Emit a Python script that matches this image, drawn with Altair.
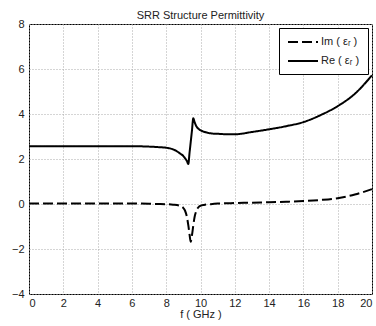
import altair as alt
import pandas as pd

# Frequency samples (GHz) and the complex permittivity of the SRR structure
freq = [0, 1, 2, 3, 4, 5, 6, 7, 7.5, 8, 8.4, 8.8, 9.0, 9.1, 9.2, 9.29, 9.36,
        9.43, 9.5, 9.58, 9.65, 9.75, 9.9, 10.0, 10.2, 10.4, 10.7, 11, 11.5,
        12, 13, 14, 15, 16, 17, 18, 19, 20]
re_eps = [2.57, 2.57, 2.57, 2.57, 2.57, 2.57, 2.57, 2.55, 2.53, 2.5, 2.43,
          2.25, 2.13, 2.03, 1.92, 1.78, 2.27, 2.76, 3.25, 3.81, 3.65, 3.47,
          3.33, 3.28, 3.21, 3.17, 3.13, 3.12, 3.1, 3.1, 3.2, 3.32, 3.46,
          3.64, 3.95, 4.35, 4.9, 5.72]
im_eps = [0.02, 0.02, 0.02, 0.02, 0.02, 0.02, 0.02, 0.01, 0.0, -0.01, -0.03,
          -0.08, -0.18, -0.3, -0.55, -0.95, -1.35, -1.68, -1.4, -0.95, -0.6,
          -0.32, -0.13, -0.08, -0.04, -0.02, 0.0, 0.02, 0.03, 0.04, 0.06,
          0.08, 0.1, 0.13, 0.18, 0.26, 0.42, 0.66]

series_names = ["Im ( εᵣ )", "Re ( εᵣ )"]
x_ticks = list(range(0, 21, 2))
y_ticks = list(range(-4, 9, 2))

df = pd.concat([
    pd.DataFrame({"f": freq, "eps": im_eps, "series": series_names[0]}),
    pd.DataFrame({"f": freq, "eps": re_eps, "series": series_names[1]}),
])

FONT = "Liberation Sans"

# legend swatch: a long flat line that stays short in the row layout
SWATCH = "M-1,0H5"

chart = alt.Chart(df).mark_line(
    color="black", strokeWidth=2, interpolate="monotone"
).encode(
    x=alt.X("f:Q", title="f ( GHz )",
            scale=alt.Scale(domain=[0, 20], nice=False),
            axis=alt.Axis(values=x_ticks, format="d", labelPadding=3,
                          titlePadding=0)),
    y=alt.Y("eps:Q", title=None,
            scale=alt.Scale(domain=[-4, 8], nice=False),
            axis=alt.Axis(values=y_ticks, format="d", labelPadding=5)),
    strokeDash=alt.StrokeDash(
        "series:N",
        scale=alt.Scale(domain=series_names, range=[[10, 4], [1, 0]]),
        legend=alt.Legend(
            title=None, orient="top-right", offset=4,
            fillColor="white", strokeColor="black", padding=8,
            cornerRadius=0, symbolType=SWATCH, symbolSize=100,
            symbolStrokeWidth=2, symbolStrokeColor="black",
            labelFont=FONT, labelFontSize=11, labelColor="#222",
            rowPadding=8, labelOffset=22,
        ),
    ),
    detail="series:N",
).properties(
    width=343,
    height=270,
    title=alt.TitleParams("SRR Structure Permittivity", font=FONT,
                          fontSize=11, fontWeight="normal", color="#222",
                          offset=-3, frame="group"),
    autosize=alt.AutoSizeParams(type="none"),
    padding={"left": 29, "top": 24, "right": 4, "bottom": 32},
).configure_view(
    stroke="black", strokeWidth=1
).configure_axis(
    domain=False, ticks=False,
    labelFont=FONT, labelFontSize=11, labelColor="#222",
    titleFont=FONT, titleFontSize=11, titleFontWeight="normal",
    titleColor="#222",
    grid=True, gridColor="#aaa", gridDash=[1, 2], gridWidth=1,
    gridOpacity=1,
)

chart.save("out.html", embed_options={"renderer": "svg", "actions": False})
